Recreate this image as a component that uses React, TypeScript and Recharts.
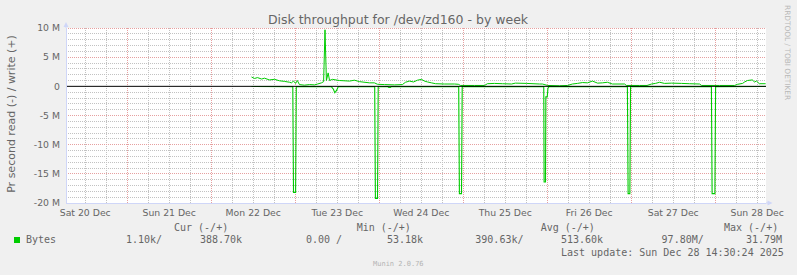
import React from 'react';
import { LineChart, Line, XAxis, YAxis, ReferenceLine, ReferenceDot, CartesianGrid } from 'recharts';

// time axis in hours since Sat 20 Dec 00:00; values in millions of bytes/s
const dayLabels = ['Sat 20 Dec', 'Sun 21 Dec', 'Mon 22 Dec', 'Tue 23 Dec', 'Wed 24 Dec', 'Thu 25 Dec', 'Fri 26 Dec', 'Sat 27 Dec', 'Sun 28 Dec'];
const dayTicks = [12, 36, 60, 84, 108, 132, 156, 180, 204];
const yTicks = [-20, -15, -10, -5, 0, 5, 10];
const yTickLabels = ['-20 M', '-15 M', '-10 M', '-5 M', '0', '5 M', '10 M'];
const majorVGrid = [24, 48, 72, 96, 120, 144, 168, 192];
const minorVGrid = [12, 18, 30, 36, 42, 54, 60, 66, 78, 84, 90, 102, 108, 114, 126, 132, 138, 150, 156, 162, 174, 180, 186, 198, 204];
const majorHGrid = [-15, -10, -5, 5, 10];
const minorHGrid = [-19, -18, -17, -16, -14, -13, -12, -11, -9, -8, -7, -6, -4, -3, -2, -1, 1, 2, 3, 4, 6, 7, 8, 9];

const writeHours = [59.5, 60.4, 61.2, 62.4, 63.2, 64.6, 66.1, 67.5, 68.9, 70.4, 70.9, 71.5, 72.1, 72.6, 73.2, 74.6, 76.1, 77.5, 78.4, 79.5, 80.1, 80.5, 80.9, 81.4, 81.8, 82.6, 84.6, 87.5, 88.9, 90.4, 93.2, 94.6, 95.5, 97.5, 100.4, 102.6, 103.5, 104.6, 105.8, 106.9, 108.1, 108.9, 109.8, 110.9, 112.1, 114.6, 117.5, 118.6, 119.2, 123.2, 126.1, 126.9, 128.9, 131.2, 133.8, 134.9, 138.1, 141.8, 142.6, 144.1, 147.5, 149.8, 151.2, 152.6, 154.1, 155.5, 156.9, 158.4, 159.8, 161.2, 162.6, 166.1, 166.6, 170.4, 172.5, 173.8, 174.9, 176.1, 177.5, 179.5, 182.4, 184.6, 187.5, 188.1, 193.2, 197.5, 198.4, 199.8, 200.4, 201.2, 202.6, 203.2, 203.8, 204.6, 206.4];
const writeValues = [1.6, 1.35, 1.5, 1.25, 1.4, 1.1, 1.2, 0.95, 0.85, 0.7, 0.6, 0.9, 0.5, 1.0, 0.3, 0.2, 0.3, 0.25, 0.4, 0.6, 0.8, 9.7, 1.0, 2.3, 1.0, 1.2, 1.0, 0.9, 1.05, 0.8, 0.6, 0.6, 0.35, 0.3, 0.25, 0.3, 0.7, 0.9, 0.75, 1.05, 1.2, 0.9, 0.75, 0.6, 0.45, 0.4, 0.4, 0.35, 0.15, 0.15, 0.15, 0.45, 0.5, 0.45, 0.4, 0.55, 0.5, 0.4, 0.4, 0.15, 0.1, 0.15, 0.4, 0.5, 0.65, 0.6, 0.9, 0.55, 0.6, 0.7, 0.4, 0.4, 0.15, 0.15, 0.15, 0.4, 0.5, 0.7, 0.5, 0.55, 0.5, 0.45, 0.4, 0.15, 0.15, 0.15, 0.35, 0.5, 0.75, 1.0, 1.1, 0.75, 0.9, 0.45, 0.45];

const readHours = [59.5, 71.3, 71.5, 72.1, 72.3, 82.3, 82.9, 83.3, 83.8, 84.3, 94.7, 94.9, 95.5, 95.7, 98.4, 98.7, 99.2, 99.5, 118.7, 118.9, 119.5, 119.7, 143.0, 143.1, 143.5, 143.6, 144.0, 144.2, 144.5, 166.9, 167.1, 167.6, 167.8, 190.9, 191.1, 191.9, 192.1, 206.4];
const readValues = [-0.02, -0.05, -18.2, -18.2, -0.05, -0.05, -0.5, -1.1, -0.7, -0.05, -0.05, -19.2, -19.2, -0.05, -0.05, -0.2, -0.2, -0.05, -0.05, -18.4, -18.4, -0.05, -0.05, -16.4, -16.4, -1.8, -1.8, -0.3, -0.05, -0.05, -18.4, -18.4, -0.05, -0.05, -18.4, -18.4, -0.05, -0.02];

const legendHeaders = ['Cur (-/+)', 'Min (-/+)', 'Avg (-/+)', 'Max (-/+)'];
const legendValues = ['1.10k/', '388.70k', '0.00 /', '53.18k', '390.63k/', '513.60k', '97.80M/', '31.79M'];
const seriesName = 'Bytes';
const lastUpdate = 'Last update: Sun Dec 28 14:30:24 2025';
const title = 'Disk throughput for /dev/zd160 - by week';
const yLabel = 'Pr second read (-) / write (+)';

const writeData = writeHours.map((t, i) => ({ t, v: writeValues[i] }));
const readData = readHours.map((t, i) => ({ t, v: readValues[i] }));

const GREEN = '#00cc00';
const FONT = '#666666';
const AXIS = '#CFD6F8';
const MINOR = '#c2c2c2';
const MAJOR = '#e6a0a0';

const headerX = [174, 356.7, 540.7, 724];
const valueX = [126, 200, 306, 387, 475.3, 561, 661.6, 746];

export default function App() {
  return (
    <div style={{ position: 'relative', width: 797, height: 275, background: '#f0f0f0', overflow: 'hidden' }}>
      <style>{'html,body{margin:0;padding:0;background:#f0f0f0}'}</style>
      <LineChart width={797} height={275} margin={{ top: 28, right: 31, bottom: 42, left: 6 }}>
        <CartesianGrid
          fill="#ffffff"
          horizontalValues={minorHGrid}
          verticalValues={minorVGrid}
          stroke={MINOR}
          strokeDasharray="1 1"
          shapeRendering="crispEdges"
        />
        <CartesianGrid
          horizontalValues={majorHGrid}
          verticalValues={majorVGrid}
          stroke={MAJOR}
          strokeDasharray="1 1"
          shapeRendering="crispEdges"
        />
        <XAxis
          xAxisId="minorTicks"
          type="number"
          domain={[6.5, 206.5]}
          ticks={minorVGrid}
          tick={false}
          tickLine={{ stroke: MINOR, shapeRendering: 'crispEdges' }}
          tickSize={3}
          axisLine={false}
          height={0}
          allowDataOverflow
          interval={0}
        />
        <XAxis
          xAxisId="majorTicks"
          type="number"
          domain={[6.5, 206.5]}
          ticks={majorVGrid}
          tick={false}
          tickLine={{ stroke: MAJOR, shapeRendering: 'crispEdges' }}
          tickSize={3}
          axisLine={false}
          height={0}
          allowDataOverflow
          interval={0}
        />
        <XAxis
          type="number"
          dataKey="t"
          domain={[6.5, 206.5]}
          ticks={dayTicks}
          tickFormatter={(v: number) => dayLabels[dayTicks.indexOf(v)] ?? ''}
          allowDataOverflow
          axisLine={{ stroke: AXIS, shapeRendering: 'crispEdges' }}
          tickLine={false}
          tickSize={4}
          tickMargin={2}
          height={30}
          tick={{ fontSize: 9.3, fill: FONT, fontFamily: 'DejaVu Sans' }}
          interval={0}
        />
        <YAxis
          type="number"
          domain={[-20, 10]}
          ticks={yTicks}
          tickFormatter={(v: number) => yTickLabels[yTicks.indexOf(v)] ?? ''}
          allowDataOverflow
          axisLine={{ stroke: AXIS, shapeRendering: 'crispEdges' }}
          tickLine={false}
          tickSize={6}
          tickMargin={0}
          width={60}
          tick={{ fontSize: 9.3, fill: FONT, fontFamily: 'DejaVu Sans' }}
          interval={0}
        />
        <Line data={writeData} dataKey="v" type="linear" stroke={GREEN} strokeWidth={1} dot={false} isAnimationActive={false} />
        <Line data={readData} dataKey="v" type="linear" stroke={GREEN} strokeWidth={1.1} dot={false} isAnimationActive={false} />
        <ReferenceLine y={0} stroke="#000000" strokeWidth={1} />
        <ReferenceDot
          x={6.5}
          y={10}
          ifOverflow="visible"
          shape={(p: any) => (
            <g>
              <line x1={p.cx} y1={p.cy} x2={p.cx} y2={p.cy - 3} stroke={AXIS} />
              <polygon points={`${p.cx - 2.5},${p.cy - 1} ${p.cx + 2.5},${p.cy - 1} ${p.cx},${p.cy - 6}`} fill={AXIS} />
            </g>
          )}
        />
        <ReferenceDot
          x={206.5}
          y={-20}
          ifOverflow="visible"
          shape={(p: any) => (
            <g>
              <line x1={p.cx} y1={p.cy} x2={p.cx + 3} y2={p.cy} stroke={AXIS} />
              <polygon points={`${p.cx + 1.5},${p.cy - 2.5} ${p.cx + 1.5},${p.cy + 2.5} ${p.cx + 6.5},${p.cy}`} fill={AXIS} />
            </g>
          )}
        />
      </LineChart>
      <svg width={797} height={275} style={{ position: 'absolute', left: 0, top: 0, pointerEvents: 'none' }}>
        <text x={398} y={24} textAnchor="middle" fontFamily="DejaVu Sans" fontSize={12.5} fill={FONT}>{title}</text>
        <text x={15} y={114} transform="rotate(-90 15 114)" textAnchor="middle" fontFamily="DejaVu Sans" fontSize={11} fill={FONT}>{yLabel}</text>
        <text x={785} y={5} transform="rotate(90 785 5)" fontFamily="DejaVu Sans" fontSize={7.4} fill="#b8b8b8">RRDTOOL / TOBI OETIKER</text>
        <g fontFamily="DejaVu Sans Mono" fontSize={10} fill={FONT} style={{ whiteSpace: 'pre' }}>
          {legendHeaders.map((h, i) => (
            <text key={h} x={headerX[i]} y={231}>{h}</text>
          ))}
          <rect x={14} y={237} width={6} height={6} fill={GREEN} />
          <text x={26} y={243}>{seriesName}</text>
          {legendValues.map((v, i) => (
            <text key={i} x={valueX[i]} y={243}>{v}</text>
          ))}
          <text x={561} y={255.5}>{lastUpdate}</text>
        </g>
        <text x={373} y={266} fontFamily="DejaVu Sans Mono" fontSize={7} fill="#b4b4b4">Munin 2.0.76</text>
      </svg>
    </div>
  );
}
